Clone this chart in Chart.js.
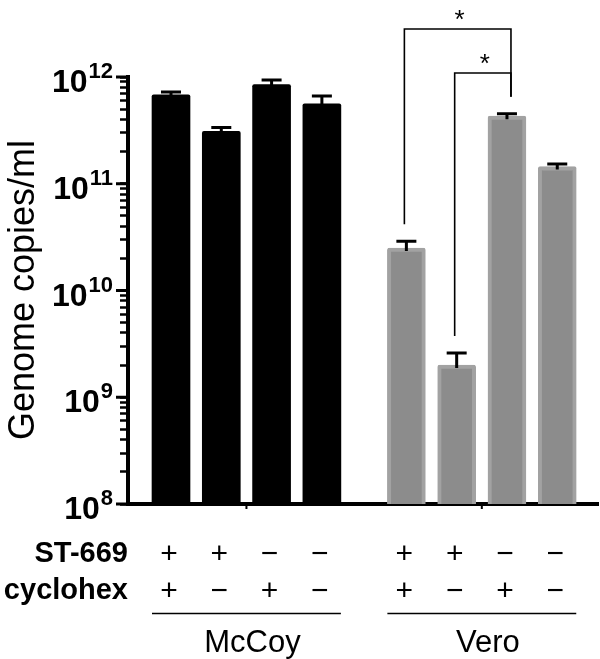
<!DOCTYPE html>
<html>
<head>
<meta charset="utf-8">
<script src="https://cdn.jsdelivr.net/npm/chart.js@4/dist/chart.umd.min.js"></script>
<style>
  html, body { margin: 0; padding: 0; background: #fff; }
  canvas { display: block; }
</style>
</head>
<body>
<canvas id="chart" width="600" height="659"></canvas>
<script>
// data
const cellLine = ['McCoy', 'McCoy', 'McCoy', 'McCoy', 'Vero', 'Vero', 'Vero', 'Vero'];
const st669 = ['+', '+', '\u2212', '\u2212', '+', '+', '\u2212', '\u2212'];
const cyclohex = ['+', '\u2212', '+', '\u2212', '+', '\u2212', '+', '\u2212'];
const genomeCopies = [6.8e11, 3.1e11, 8.5e11, 5.6e11, 2.5e10, 2.0e9, 4.3e11, 1.45e11];
const errUp = [0.45e11, 0.27e11, 0.85e11, 1.05e11, 0.4e10, 0.6e9, 0.22e11, 0.08e11];
const groups = ['McCoy', 'Vero'];
const yTicks = [1e8, 1e9, 1e10, 1e11, 1e12];
const sigPairs = [[4, 6, '*'], [5, 6, '*']];

const FONT = "'Liberation Sans', Arial, sans-serif";
const GROUP_GAP = 0.68;   // extra space between the two cell lines, in bar slots
const BAR_W = 38;

const xPos = cellLine.map((c, i) => i + groups.indexOf(c) * GROUP_GAP);

// major decades plus the 2..9 minor ticks in between
const allTicks = [];
yTicks.forEach((v, d) => {
  allTicks.push({ value: v, major: true });
  if (d < yTicks.length - 1) {
    for (let m = 2; m <= 9; m++) allTicks.push({ value: v * m, major: false });
  }
});

const overlay = {
  id: 'overlay',
  afterDatasetsDraw(chart) {
    const ctx = chart.ctx;
    const y = chart.scales.y;
    const bars = chart.getDatasetMeta(0).data;
    ctx.save();
    ctx.strokeStyle = '#000';
    ctx.lineWidth = 3;
    bars.forEach((bar, i) => {
      const top = y.getPixelForValue(genomeCopies[i] + errUp[i]);
      ctx.beginPath();
      ctx.moveTo(bar.x, bar.y + 3);
      ctx.lineTo(bar.x, top);
      ctx.moveTo(bar.x - 10, top);
      ctx.lineTo(bar.x + 10, top);
      ctx.stroke();
    });
    ctx.restore();
  },
  afterDraw(chart) {
    const ctx = chart.ctx;
    const y = chart.scales.y;
    const area = chart.chartArea;
    const bars = chart.getDatasetMeta(0).data;
    ctx.save();
    ctx.fillStyle = '#000';
    ctx.strokeStyle = '#000';

    // longer major ticks and 10^n labels
    yTicks.forEach(base => {
      const py = y.getPixelForValue(base);
      ctx.fillRect(area.left - 12, py - 1.5, 12, 3);
      const exp = String(Math.round(Math.log10(base)));
      ctx.textAlign = 'right';
      ctx.textBaseline = 'alphabetic';
      ctx.font = 'bold 22px ' + FONT;
      const rx = area.left - 15;
      ctx.fillText(exp, rx, py + 1);
      const w = ctx.measureText(exp).width;
      ctx.font = 'bold 32px ' + FONT;
      ctx.fillText('10', rx - w - 1, py + 15);
    });

    // small ticks under x axis at group centres
    groups.forEach(g => {
      const idx = cellLine.map((c, i) => c === g ? i : -1).filter(i => i >= 0);
      const cx = (bars[idx[0]].x + bars[idx[idx.length - 1]].x) / 2;
      ctx.fillRect(cx - 1, area.bottom, 2, 5);
    });

    // y title
    ctx.save();
    ctx.translate(34, 290);
    ctx.rotate(-Math.PI / 2);
    ctx.textAlign = 'center';
    ctx.textBaseline = 'alphabetic';
    ctx.font = '36px ' + FONT;
    ctx.fillText('Genome copies/ml', 0, 0);
    ctx.restore();

    // treatment table
    ctx.textAlign = 'right';
    ctx.textBaseline = 'alphabetic';
    ctx.font = 'bold 29px ' + FONT;
    ctx.fillText('ST-669', area.left, 562);
    ctx.fillText('cyclohex', area.left, 599);
    ctx.textAlign = 'center';
    ctx.font = '30px ' + FONT;
    bars.forEach((bar, i) => {
      ctx.fillText(st669[i], bar.x - 2, 563);
      ctx.fillText(cyclohex[i], bar.x - 2, 600);
    });

    // group underlines and names
    ctx.lineWidth = 1.5;
    groups.forEach(g => {
      const idx = cellLine.map((c, i) => c === g ? i : -1).filter(i => i >= 0);
      const x0 = bars[idx[0]].x - BAR_W / 2;
      const x1 = bars[idx[idx.length - 1]].x + BAR_W / 2;
      ctx.beginPath();
      ctx.moveTo(x0, 613.5);
      ctx.lineTo(x1, 613.5);
      ctx.stroke();
      ctx.font = '31px ' + FONT;
      ctx.fillText(g, (x0 + x1) / 2 + 6, 652);
    });

    // significance brackets
    const levels = [area.top - 48, area.top - 4];
    ctx.lineWidth = 1.6;
    sigPairs.forEach(([a, b, label], k) => {
      const top = levels[k];
      const xa = bars[a].x - 2;
      const xb = bars[b].x + 4;
      const ya = y.getPixelForValue(genomeCopies[a] + errUp[a]) - 17;
      const yb = y.getPixelForValue(genomeCopies[b] + errUp[b]) - 17;
      ctx.beginPath();
      ctx.moveTo(xa, ya);
      ctx.lineTo(xa, top);
      ctx.lineTo(xb, top);
      ctx.lineTo(xb, yb);
      ctx.stroke();
      ctx.font = '26px ' + FONT;
      ctx.textAlign = 'center';
      ctx.fillText(label, (xa + xb) / 2 + 2, top - 1);
    });

    ctx.restore();
  }
};

new Chart(document.getElementById('chart').getContext('2d'), {
  type: 'bar',
  data: {
    datasets: [
      {
        data: genomeCopies.map((v, i) => ({ x: xPos[i], y: v })),
        backgroundColor: cellLine.map(c => c === 'McCoy' ? '#000000' : '#8c8c8c'),
        borderColor: cellLine.map(c => c === 'McCoy' ? '#000000' : '#a2a2a2'),
        borderWidth: cellLine.map(c => c === 'McCoy' ? 0 : 4),
        borderRadius: 2,
        borderSkipped: 'start',
        barThickness: BAR_W,
      },
    ],
  },
  options: {
    responsive: false,
    animation: false,
    layout: { padding: { left: 0, right: 2, top: 77, bottom: 155 } },
    plugins: { legend: { display: false }, tooltip: { enabled: false } },
    scales: {
      x: {
        type: 'linear',
        offset: false,
        min: -0.855,
        max: 8.49,
        ticks: { display: false },
        grid: { drawOnChartArea: false, drawTicks: false },
        border: { color: '#000', width: 4 },
        afterFit: s => { s.height = 0; },
      },
      y: {
        type: 'logarithmic',
        min: 1e8,
        max: 1e12,
        ticks: { display: false },
        grid: {
          drawOnChartArea: false,
          drawTicks: true,
          tickLength: 8,
          tickColor: '#000',
          tickWidth: 2.5,
        },
        border: { color: '#000', width: 4 },
        afterBuildTicks: s => { s.ticks = allTicks.map(t => ({ value: t.value, major: t.major })); },
        afterFit: s => { s.width = 128; },
      },
    },
  },
  plugins: [overlay],
});
</script>
</body>
</html>
